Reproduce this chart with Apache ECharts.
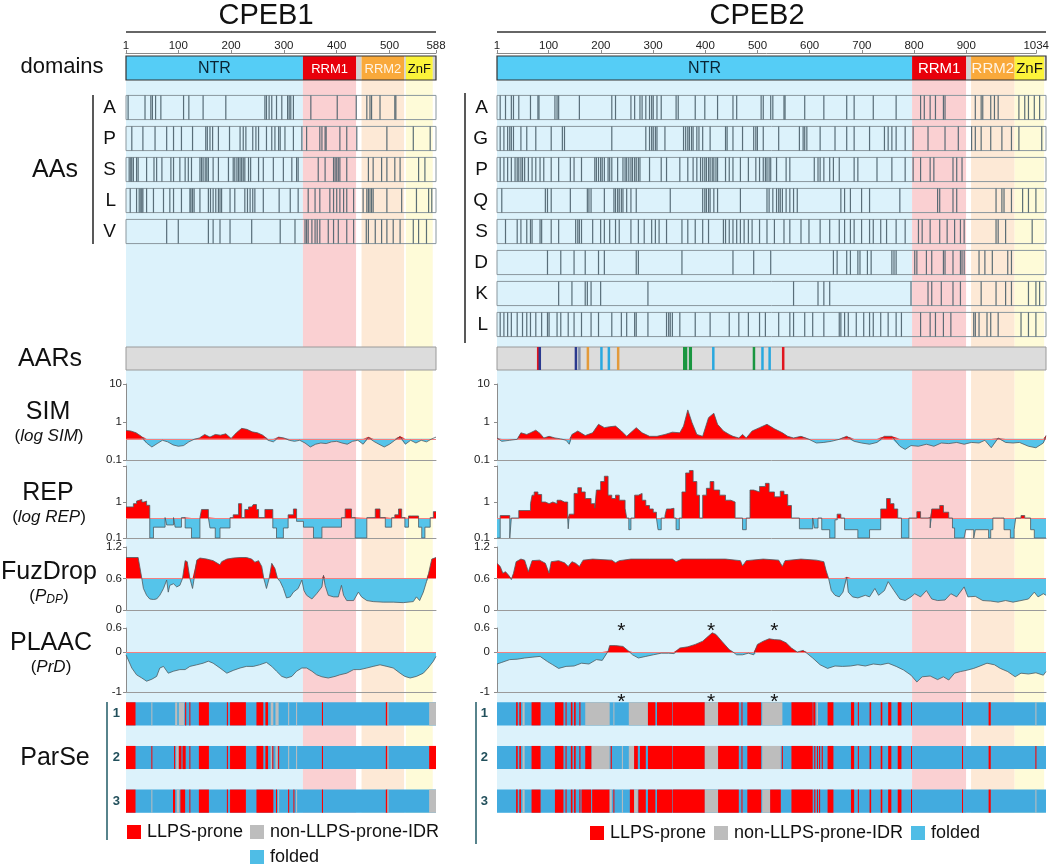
<!DOCTYPE html>
<html>
<head>
<meta charset="utf-8">
<script src="https://cdn.jsdelivr.net/npm/echarts@6/dist/echarts.min.js"></script>
<style>
html, body { margin: 0; padding: 0; background: #fff; }
#chart { width: 1052px; height: 867px; }
</style>
</head>
<body>
<div id="chart"></div>
<script>
// ---------- data ----------
var cpeb1Len = 588;
var cpeb2Len = 1034;
var cpeb1Ticks = [1, 100, 200, 300, 400, 500, 588];
var cpeb2Ticks = [1, 100, 200, 300, 400, 500, 600, 700, 800, 900, 1034];

// domain types: 0 NTR, 1 RRM1, 2 gap, 3 RRM2, 4 ZnF
var domainNames = ['NTR', 'RRM1', '', 'RRM2', 'ZnF'];
var cpeb1DomStart = [1, 336, 437, 447, 528, 531, 582];
var cpeb1DomEnd   = [336, 437, 447, 528, 531, 582, 588];
var cpeb1DomType  = [0, 1, 2, 3, 2, 4, 2];
var cpeb2DomStart = [1, 782, 884, 893, 975, 1031];
var cpeb2DomEnd   = [782, 884, 893, 975, 1031, 1034];
var cpeb2DomType  = [0, 1, 2, 3, 4, 2];

// amino acid positions
var cpeb1Tracks = ['A', 'P', 'S', 'L', 'V'];
var cpeb1A = [5,37,48,51,57,67,110,120,147,190,264,267,272,277,286,296,307,310,313,318,351,401,437,457,463,466,482,510,512];
var cpeb1P = [12,33,56,78,91,106,127,152,155,160,165,176,197,217,223,228,241,247,252,267,277,283,290,293,302,318,334,343,368,372,378,380,406,419,438,495,545,577];
var cpeb1S = [7,10,12,15,21,24,40,54,59,69,86,91,103,113,119,125,141,144,147,151,154,157,166,176,195,204,207,211,214,217,220,223,226,233,237,252,261,280,299,315,324,327,365,378,394,397,400,403,406,419,460,469,485,495,510,520,555,567];
var cpeb1L = [9,21,26,29,31,33,40,53,72,84,91,106,122,124,127,130,141,157,161,166,171,176,179,182,198,207,226,231,236,241,245,261,291,312,327,346,359,368,387,394,400,406,413,419,432,450,457,460,463,466,469,495,523,551,574,580];
var cpeb1V = [78,100,157,166,179,198,239,293,321,340,343,346,353,359,363,368,384,394,403,419,432,456,460,473,485,495,507,520,545,555,570];

var cpeb2Tracks = ['A', 'G', 'P', 'Q', 'S', 'D', 'K', 'L'];
var cpeb2A = [7,17,28,32,42,64,78,80,110,114,117,156,217,224,253,260,270,274,281,288,292,295,302,310,338,342,374,392,416,445,452,498,502,516,520,541,543,580,616,659,673,709,752,798,805,816,826,841,844,901,912,915,930,937,944,983,994,1001,1012,1022];
var cpeb2G = [7,14,21,25,28,32,46,57,74,103,124,128,217,281,288,292,295,299,302,317,352,356,360,363,367,370,377,381,388,402,431,434,445,463,484,488,491,502,531,570,577,580,584,609,637,659,673,702,730,737,744,752,769,784,812,844,869,894,901,912,930,951,969,983,1026];
var cpeb2P = [7,14,21,28,35,39,42,46,49,53,60,67,74,82,89,103,117,139,146,160,185,188,192,196,199,203,210,213,217,228,238,242,245,249,253,256,260,263,267,270,288,310,320,345,360,370,377,384,388,392,395,399,402,406,409,413,416,431,438,445,459,474,488,495,502,506,509,513,516,527,545,552,598,605,609,616,627,634,645,673,680,716,744,769,784,798,816,823,859,866,876];
var cpeb2Q = [10,92,96,103,139,171,174,178,203,221,224,228,231,235,238,245,253,263,327,388,392,395,399,402,409,416,459,509,513,520,527,531,534,538,545,552,559,566,648,655,666,687,702,759,830,834,859,866,940,951,955,969,990,1001,1015];
var cpeb2S = [17,39,46,57,64,67,82,85,103,117,149,153,156,160,181,196,203,213,224,231,253,267,278,292,299,306,320,349,360,374,388,399,427,431,438,445,452,459,466,474,481,495,509,523,541,552,573,588,609,627,645,655,666,673,687,702,709,723,734,752,769,794,801,816,834,848,862,873,880,940,944,958,1008];
var cpeb2D = [96,121,146,167,192,203,263,267,349,445,484,516,634,641,659,666,680,684,698,705,744,748,752,787,791,809,819,841,844,859,873,876,880,908,919,933,962,969];
var cpeb2K = [117,142,167,171,178,196,285,559,605,616,627,780,812,819,837,859,873,912,940,958,969,1001,1015,1022];
var cpeb2L = [7,14,21,28,39,49,57,64,74,85,96,99,114,121,135,146,160,178,192,217,235,245,260,263,285,320,324,327,331,345,374,402,438,456,474,495,506,531,552,559,580,595,616,645,648,655,662,677,691,702,709,723,737,752,762,798,816,826,841,855,898,901,908,923,930,944,987,1001,1015];

// AARs: [start, end, repeat type]
var cpeb1Aar = [];
var cpeb2Aar = [[77,80,0],[80,83,1],[148,151,1],[155,157,2],[171,173,3],[196,199,4],[210,213,4],[228,230,3],
  [351,359,5],[362,368,5],[407,409,4],[483,486,5],[499,502,4],[513,515,4],[538,541,0]];

// SIM (log scale)
var cpeb1Sim = [[1,0.60],[10,0.58],[20,0.52],[30,0.42],[40,0.28],[50,0.22],[60,0.27],[70,0.33],[80,0.30],[90,0.25],
  [100,0.23],[110,0.24],[120,0.30],[130,0.35],[140,0.38],[150,0.47],[160,0.40],[170,0.47],[180,0.45],[190,0.49],
  [200,0.37],[210,0.52],[220,0.68],[230,0.64],[240,0.55],[250,0.52],[260,0.45],[270,0.33],[280,0.30],[290,0.40],
  [300,0.38],[310,0.33],[320,0.31],[330,0.33],[340,0.28],[350,0.22],[360,0.26],[370,0.28],[380,0.27],[390,0.30],
  [400,0.31],[410,0.28],[420,0.26],[430,0.31],[440,0.33],[450,0.26],[460,0.40],[470,0.31],[480,0.26],[490,0.22],
  [500,0.26],[510,0.33],[520,0.42],[530,0.26],[540,0.33],[550,0.28],[560,0.33],[570,0.30],[580,0.36],[588,0.40]];
var cpeb2Sim = [[1,0.38],[10,0.31],[25,0.33],[39,0.35],[46,0.52],[57,0.47],[64,0.52],[74,0.61],[82,0.50],[89,0.38],
  [99,0.42],[110,0.38],[121,0.36],[131,0.33],[137,0.26],[142,0.47],[153,0.58],[167,0.44],[181,0.52],[192,0.87],
  [203,0.71],[213,0.75],[224,0.78],[235,0.58],[245,0.42],[256,0.58],[263,0.71],[274,0.52],[288,0.42],[302,0.42],
  [317,0.47],[331,0.54],[345,0.52],[352,0.78],[360,2.08],[368,0.96],[377,0.47],[388,0.42],[399,1.30],[409,1.70],
  [416,0.87],[427,0.58],[438,0.47],[445,0.42],[456,0.38],[463,0.47],[470,0.38],[481,0.58],[495,0.71],[509,0.87],
  [523,0.66],[538,0.52],[548,0.42],[559,0.38],[573,0.42],[588,0.35],[602,0.28],[616,0.29],[630,0.31],[645,0.35],
  [659,0.42],[673,0.31],[687,0.28],[702,0.26],[716,0.29],[730,0.42],[744,0.42],[759,0.23],[769,0.19],[780,0.24],
  [794,0.23],[809,0.26],[823,0.23],[837,0.28],[851,0.27],[866,0.29],[880,0.26],[894,0.29],[908,0.28],[919,0.33],
  [931,0.21],[944,0.38],[958,0.29],[972,0.28],[984,0.29],[1001,0.23],[1015,0.21],[1029,0.28],[1034,0.44]];

// REP (log scale, stepped)
var cpeb1Rep = [[1,0.73],[15,0.9],[21,1.06],[24,1.18],[31,1.0],[35,1.06],[40,0.81],[46,0.10],[53,0.20],[75,0.37],
  [78,0.23],[91,0.37],[94,0.20],[106,0.37],[113,0.19],[125,0.10],[141,0.37],[144,0.62],[157,0.37],[160,0.19],
  [170,0.10],[179,0.19],[198,0.37],[204,0.44],[214,0.90],[220,0.37],[226,0.62],[233,0.73],[239,0.66],[242,0.85],
  [248,0.62],[252,0.37],[264,0.62],[279,0.19],[286,0.10],[299,0.19],[308,0.44],[318,0.64],[324,0.29],[337,0.20],
  [356,0.10],[372,0.20],[409,0.37],[416,0.64],[428,0.37],[435,0.10],[457,0.37],[473,0.64],[482,0.37],[492,0.20],
  [504,0.37],[510,0.44],[517,0.64],[523,0.37],[529,0.20],[536,0.41],[542,0.41],[555,0.20],[561,0.10],[567,0.20],
  [577,0.37],[583,0.54],[588,0.54]];
var cpeb2Rep = [[1,0.1],[7,0.42],[25,0.1],[28,0.36],[42,0.58],[64,0.9],[67,1.55],[71,1.9],[78,1.62],[85,1.0],
  [92,0.9],[99,1.0],[106,0.9],[114,1.12],[121,1.0],[128,1.0],[134,0.36],[135,0.18],[137,0.46],[146,1.73],
  [153,2.5],[160,1.9],[167,1.25],[178,0.9],[185,0.67],[188,2.15],[196,3.7],[203,5.2],[210,1.55],[217,1.25],
  [224,1.55],[231,1.12],[242,0.67],[245,0.36],[249,0.17],[253,0.36],[260,1.55],[267,1.73],[274,1.12],[281,0.8],
  [288,0.64],[295,0.52],[301,0.36],[304,0.17],[310,0.36],[317,0.42],[320,0.64],[327,0.67],[334,0.36],[338,0.17],
  [344,0.36],[349,1.9],[356,6.4],[363,7.5],[370,3.7],[377,1.55],[382,0.36],[388,1.55],[395,2.4],[402,3.7],
  [409,2.15],[420,1.55],[431,1.12],[441,1.0],[449,0.36],[463,0.17],[470,0.36],[477,2.15],[484,1.9],[495,2.7],
  [506,3.3],[513,1.9],[523,1.39],[534,2.0],[541,1.62],[548,0.8],[555,0.36],[570,0.18],[595,0.36],[598,0.19],
  [605,0.36],[612,0.17],[627,0.1],[637,0.32],[641,0.46],[648,0.36],[655,0.17],[680,0.1],[702,0.17],[723,0.64],
  [734,1.25],[741,0.9],[748,0.64],[755,0.36],[762,0.1],[776,0.36],[791,0.54],[798,0.36],[812,0.37],[816,0.19],
  [819,0.64],[834,0.8],[841,0.52],[851,0.36],[858,0.19],[862,0.1],[880,0.1],[883,0.17],[898,0.1],[901,0.17],
  [926,0.1],[930,0.17],[934,0.36],[948,0.36],[955,0.17],[967,0.1],[974,0.17],[977,0.36],[987,0.42],[994,0.36],
  [1005,0.17],[1012,0.1],[1034,0.1]];

// FuzDrop pDP
var cpeb1Fuz = [[1,1.0],[24,1.0],[31,0.60],[34,0.41],[40,0.28],[46,0.21],[53,0.20],[59,0.21],[65,0.28],[72,0.41],
  [78,0.57],[81,0.34],[84,0.47],[91,0.50],[97,0.44],[103,0.47],[108,0.60],[113,0.94],[117,0.92],[122,0.60],
  [127,0.41],[130,0.60],[135,0.95],[141,0.99],[154,0.97],[166,0.94],[179,0.86],[182,0.92],[192,0.97],[204,0.99],
  [217,1.0],[229,1.0],[239,0.97],[245,0.91],[252,0.94],[258,0.83],[262,0.60],[267,0.41],[272,0.60],[277,0.89],
  [283,0.79],[288,0.60],[293,0.54],[299,0.41],[305,0.23],[312,0.25],[318,0.34],[327,0.41],[334,0.57],[338,0.37],
  [343,0.28],[353,0.21],[362,0.31],[372,0.44],[375,0.66],[378,0.47],[384,0.28],[394,0.25],[403,0.25],[409,0.47],
  [413,0.28],[419,0.18],[432,0.18],[441,0.34],[447,0.25],[457,0.18],[469,0.16],[488,0.15],[507,0.15],[526,0.14],
  [545,0.16],[551,0.25],[557,0.18],[564,0.34],[570,0.54],[574,0.70],[580,0.97],[588,1.0]];
var cpeb2Fuz = [[1,0.89],[7,0.83],[12,0.70],[17,0.73],[23,0.66],[28,0.58],[32,0.70],[37,0.92],[46,0.97],[53,0.95],
  [60,0.73],[67,0.94],[81,0.95],[92,0.89],[99,0.70],[103,0.92],[117,0.94],[128,0.90],[135,0.83],[142,0.92],
  [149,0.89],[156,0.83],[163,0.95],[181,0.97],[217,0.95],[224,0.90],[231,0.94],[253,0.97],[288,0.97],[331,0.97],
  [338,0.92],[349,0.97],[395,0.97],[431,0.97],[459,0.94],[463,0.84],[470,0.94],[502,0.97],[531,0.95],[538,0.83],
  [543,0.94],[573,0.97],[602,0.95],[616,0.92],[620,0.76],[625,0.60],[630,0.37],[637,0.28],[645,0.25],[652,0.34],
  [659,0.63],[662,0.34],[670,0.25],[680,0.23],[694,0.28],[702,0.25],[712,0.41],[719,0.28],[730,0.37],[737,0.54],
  [748,0.37],[759,0.21],[769,0.18],[780,0.25],[787,0.31],[798,0.25],[809,0.37],[819,0.21],[830,0.18],[844,0.19],
  [855,0.31],[866,0.25],[880,0.44],[887,0.25],[901,0.26],[915,0.18],[930,0.17],[944,0.15],[958,0.18],[972,0.15],
  [987,0.18],[1001,0.21],[1012,0.34],[1019,0.25],[1029,0.31],[1034,0.28]];

// PLAAC PrD
var cpeb1Plaac = [[1,-0.07],[12,-0.40],[21,-0.57],[31,-0.65],[40,-0.73],[50,-0.68],[59,-0.61],[65,-0.40],[72,-0.36],
  [81,-0.53],[91,-0.48],[103,-0.44],[113,-0.44],[122,-0.36],[135,-0.32],[147,-0.28],[157,-0.23],[166,-0.28],
  [179,-0.40],[192,-0.53],[204,-0.46],[217,-0.40],[229,-0.36],[242,-0.36],[254,-0.32],[267,-0.26],[277,-0.36],
  [286,-0.48],[296,-0.61],[305,-0.65],[315,-0.61],[324,-0.48],[334,-0.40],[343,-0.40],[353,-0.48],[362,-0.57],
  [372,-0.62],[384,-0.65],[397,-0.61],[406,-0.57],[419,-0.53],[432,-0.44],[444,-0.44],[457,-0.40],[469,-0.36],
  [482,-0.32],[495,-0.36],[507,-0.40],[520,-0.53],[529,-0.61],[539,-0.65],[551,-0.61],[564,-0.53],[573,-0.40],
  [583,-0.23],[588,-0.11]];
var cpeb2Plaac = [[1,-0.30],[10,-0.26],[25,-0.19],[39,-0.18],[53,-0.15],[67,-0.13],[82,-0.11],[96,-0.24],[106,-0.32],
  [117,-0.41],[131,-0.36],[146,-0.35],[160,-0.28],[174,-0.30],[188,-0.19],[199,-0.21],[210,0.02],[213,0.16],
  [224,0.16],[238,0.14],[249,0.02],[256,-0.07],[267,-0.15],[281,-0.11],[295,-0.07],[310,-0.03],[324,-0.03],
  [334,-0.04],[345,0.10],[360,0.13],[374,0.19],[388,0.27],[399,0.40],[406,0.48],[413,0.44],[424,0.27],[438,0.06],
  [445,0.0],[452,-0.07],[463,-0.07],[474,-0.03],[484,-0.07],[491,0.19],[502,0.27],[513,0.33],[523,0.31],[534,0.30],
  [545,0.23],[555,0.10],[566,0.0],[577,0.04],[584,-0.03],[595,-0.15],[609,-0.32],[623,-0.41],[637,-0.35],
  [651,-0.36],[666,-0.35],[680,-0.32],[694,-0.35],[709,-0.30],[723,-0.32],[737,-0.28],[752,-0.36],[766,-0.45],
  [780,-0.58],[791,-0.75],[801,-0.62],[816,-0.60],[830,-0.69],[841,-0.62],[851,-0.70],[862,-0.53],[873,-0.49],
  [887,-0.45],[898,-0.41],[908,-0.36],[923,-0.28],[937,-0.32],[948,-0.41],[962,-0.49],[976,-0.62],[987,-0.53],
  [1001,-0.55],[1015,-0.52],[1029,-0.58],[1034,-0.49]];
var cpeb2Stars = [235, 404, 523];

// ParSe segments on a folded background: [start, end, type] 0 = LLPS-prone, 1 = non-LLPS-prone IDR
var cpeb1Parse1 = [[1,19,0],[49,50,1],[94,98,1],[101,111,1],[113,115,0],[121,122,0],[139,158,0],[192,194,0],[198,228,0],
  [248,261,0],[265,270,0],[275,280,1],[284,290,1],[308,310,1],[323,325,1],[372,374,0],[493,496,0],[496,498,1],[575,588,1]];
var cpeb1Parse2 = [[1,19,0],[49,50,0],[92,94,0],[96,101,1],[101,106,0],[108,114,0],[121,122,0],[139,158,0],[192,194,0],
  [198,228,0],[248,261,0],[265,270,0],[275,278,1],[278,280,0],[284,288,1],[289,291,0],[308,310,1],[323,325,1],
  [372,374,0],[493,496,0],[496,498,1],[575,588,0]];
var cpeb1Parse3 = [[1,19,0],[49,50,1],[90,94,0],[97,102,1],[104,113,0],[121,122,0],[139,158,0],[192,194,0],[198,228,0],
  [248,280,0],[285,286,0],[289,291,1],[308,310,0],[318,319,0],[323,325,1],[372,374,0],[493,496,0],[496,498,1],[575,588,1]];
var cpeb2Parse1 = [[37,40,0],[43,46,0],[49,53,1],[66,83,0],[110,126,0],[130,131,0],[140,143,0],[146,149,0],[156,158,0],
  [167,213,1],[220,221,1],[249,285,1],[285,299,0],[302,331,0],[332,392,0],[392,417,1],[417,456,0],[461,462,0],
  [472,498,0],[500,538,1],[555,595,0],[596,600,0],[602,605,1],[623,634,0],[667,673,0],[680,681,0],[702,705,0],
  [723,726,0],[737,743,0],[755,762,0],[780,781,0],[876,877,0],[926,930,0],[1014,1016,1]];
var cpeb2Parse2 = [[37,40,0],[43,46,0],[49,53,1],[66,83,0],[110,126,0],[130,131,0],[140,143,0],[146,149,0],[156,158,0],
  [167,179,0],[179,213,1],[215,217,0],[236,237,1],[249,259,1],[259,266,0],[270,281,0],[285,331,0],[332,392,0],
  [392,417,1],[417,456,0],[461,462,0],[472,498,0],[500,535,1],[537,538,0],[555,595,0],[598,600,0],[603,604,0],
  [607,609,0],[612,614,0],[623,634,0],[667,673,0],[680,681,0],[702,705,0],[723,726,0],[737,743,0],[755,762,0],
  [780,781,0],[876,877,0],[926,930,0],[1014,1016,0]];
var cpeb2Parse3 = [[37,40,0],[43,46,0],[49,53,1],[66,83,0],[110,126,0],[130,131,0],[140,143,0],[146,149,0],[156,158,0],
  [160,178,0],[180,213,0],[213,217,1],[220,221,0],[236,237,1],[251,259,0],[259,266,1],[267,281,0],[285,299,0],
  [302,331,0],[332,392,0],[392,417,1],[417,456,0],[461,462,0],[472,498,0],[500,515,1],[515,535,0],[555,595,0],
  [598,600,0],[603,604,0],[607,609,0],[623,634,0],[667,673,0],[680,681,0],[702,705,0],[723,726,0],[737,743,0],
  [755,762,0],[780,781,0],[876,877,0],[926,930,0],[1014,1016,1]];

var simThr = 0.36, repThr = 0.36, fuzThr = 0.6, plaacThr = 0;

// ---------- styles ----------
var FONT = '"Liberation Sans", Arial, Helvetica, sans-serif';
var domainColors = ['#55cdf6', '#e8000b', '#d2d2d2', '#f9a93a', '#fbf33a'];
var domainTextColors = ['#0a2535', '#ffffff', '#ffffff', '#fff4e4', '#111111'];
var shadeColors = ['#dcf2fb', '#fad0d2', '#ffffff', '#fde9d6', '#fefbd8'];
var aarColors = ['#e0161f', '#2b3a8f', '#8593ad', '#e39a3a', '#29a8df', '#1a9640'];
var parseColors = ['#ff0000', '#bdbdbd'];
var foldedColor = '#42abdf';
var upColor = '#ff0000', downColor = '#55c4ea';

var proteins = [
    { name: 'CPEB1', len: cpeb1Len, left: 126, width: 310, ticks: cpeb1Ticks,
      domStart: cpeb1DomStart, domEnd: cpeb1DomEnd, domType: cpeb1DomType, domFont: 13,
      tracks: cpeb1Tracks, aa: [cpeb1A, cpeb1P, cpeb1S, cpeb1L, cpeb1V], aar: cpeb1Aar,
      sim: cpeb1Sim, rep: cpeb1Rep, fuz: cpeb1Fuz, plaac: cpeb1Plaac,
      parse: [cpeb1Parse1, cpeb1Parse2, cpeb1Parse3], stars: [],
      letterMargin: 10, yMargin: 4, rowMargin: 6, titleX: 266 },
    { name: 'CPEB2', len: cpeb2Len, left: 497, width: 549, ticks: cpeb2Ticks,
      domStart: cpeb2DomStart, domEnd: cpeb2DomEnd, domType: cpeb2DomType, domFont: 15,
      tracks: cpeb2Tracks, aa: [cpeb2A, cpeb2G, cpeb2P, cpeb2Q, cpeb2S, cpeb2D, cpeb2K, cpeb2L], aar: cpeb2Aar,
      sim: cpeb2Sim, rep: cpeb2Rep, fuz: cpeb2Fuz, plaac: cpeb2Plaac,
      parse: [cpeb2Parse1, cpeb2Parse2, cpeb2Parse3], stars: cpeb2Stars,
      letterMargin: 9, yMargin: 7, rowMargin: 9, titleX: 757 }
];

var grids = [], xAxes = [], yAxes = [], series = [], graphics = [];

function addGrid(p, top, height, yAxis, xExtra) {
    var gi = grids.length;
    grids.push({ left: p.left, width: p.width, top: top, height: height });
    xAxes.push(Object.assign({ gridIndex: gi, type: 'value', min: 1, max: p.len, show: false, z: 3 }, xExtra || {}));
    yAxes.push(Object.assign({ gridIndex: gi, z: 3 }, yAxis));
    return gi;
}

var hiddenY = { type: 'value', min: 0, max: 1, show: false };
var bottomLine = {
    show: true,
    axisLine: { show: true, onZero: false, lineStyle: { color: '#9a9a9a', width: 1 } },
    axisTick: { show: false }, axisLabel: { show: false }, splitLine: { show: false }
};
function yStyle(margin) {
    return {
        axisLine: { show: true, lineStyle: { color: '#8c8c8c' } },
        axisTick: { show: true, length: 3, lineStyle: { color: '#8c8c8c' } },
        axisLabel: { fontSize: 11.5, color: '#222', margin: margin, fontFamily: FONT },
        splitLine: { show: false }
    };
}

function rectBetween(api, x0, x1, yTop, yBot) {
    var a = api.coord([x0, yTop]);
    var b = api.coord([x1, yBot]);
    return { x: a[0], y: a[1], width: Math.max(b[0] - a[0], 1), height: b[1] - a[1] };
}

function addProfile(gi, pairs, thr, step) {
    var up = [], dn = [];
    pairs.forEach(function (d) {
        up.push([d[0], Math.max(d[1], thr)]);
        dn.push([d[0], Math.min(d[1], thr)]);
    });
    var base = { type: 'line', xAxisIndex: gi, yAxisIndex: gi, symbol: 'none', step: step || false,
                 silent: true, animation: false, z: 4 };
    series.push(Object.assign({}, base, { data: up, lineStyle: { opacity: 0 },
        areaStyle: { color: upColor, opacity: 1, origin: thr } }));
    series.push(Object.assign({}, base, { data: dn, lineStyle: { opacity: 0 },
        areaStyle: { color: downColor, opacity: 1, origin: thr } }));
    series.push(Object.assign({}, base, { data: pairs, z: 5,
        lineStyle: { color: '#4f5a60', width: 0.8 },
        markLine: { silent: true, symbol: 'none', animation: false, label: { show: false },
            lineStyle: { color: '#f28080', width: 1.2, type: 'solid' }, data: [{ yAxis: thr }] } }));
}

proteins.forEach(function (p) {
    var doms = p.domStart.map(function (s, i) { return [s, p.domEnd[i], p.domType[i]]; });

    // background shading of the domains
    var gShade = addGrid(p, 80, 733, hiddenY);
    series.push({ type: 'custom', xAxisIndex: gShade, yAxisIndex: gShade, z: 1, silent: true,
        encode: { x: [0, 1] }, data: doms,
        renderItem: function (params, api) {
            return { type: 'rect', shape: rectBetween(api, api.value(0), api.value(1), 1, 0),
                     style: { fill: shadeColors[api.value(2)] } };
        } });

    // residue ruler
    addGrid(p, 52, 1, hiddenY, {
        show: true, position: 'top',
        axisLine: { show: true, lineStyle: { color: '#8a8a8a', width: 1 } },
        axisTick: { show: true, length: 3, customValues: p.ticks, lineStyle: { color: '#8a8a8a' } },
        axisLabel: { show: true, customValues: p.ticks, fontSize: 11.5, color: '#222', margin: 0, fontFamily: FONT,
                     formatter: function (v) { return String(v); } },
        splitLine: { show: false }
    });

    // domain bar
    var gDom = addGrid(p, 56, 24, hiddenY);
    series.push({ type: 'custom', xAxisIndex: gDom, yAxisIndex: gDom, silent: true,
        encode: { x: [0, 1] }, data: doms,
        renderItem: function (params, api) {
            var t = api.value(2);
            var r = rectBetween(api, api.value(0), api.value(1), 1, 0);
            var children = [{ type: 'rect', shape: r, style: { fill: domainColors[t] } }];
            if (domainNames[t]) {
                children.push({ type: 'text', style: { text: domainNames[t], x: r.x + r.width / 2, y: r.y + r.height / 2 + 1,
                    align: 'center', verticalAlign: 'middle', fill: domainTextColors[t],
                    fontSize: t === 0 ? 16 : p.domFont, fontFamily: FONT } });
            }
            return { type: 'group', children: children };
        } });
    series.push({ type: 'custom', xAxisIndex: gDom, yAxisIndex: gDom, silent: true, z: 3,
        encode: { x: [0, 1] }, data: [[1, p.len]],
        renderItem: function (params, api) {
            return { type: 'rect', shape: rectBetween(api, api.value(0), api.value(1), 1, 0),
                     style: { fill: 'none', stroke: '#333', lineWidth: 1.2 } };
        } });

    // amino acid tracks
    var gAA = addGrid(p, 92, 31 * p.tracks.length, {
        type: 'category', data: p.tracks, inverse: true,
        axisLine: { show: false }, axisTick: { show: false }, splitLine: { show: false },
        axisLabel: { fontSize: 19, color: '#111', margin: p.letterMargin, fontFamily: FONT }
    });
    series.push({ type: 'custom', xAxisIndex: gAA, yAxisIndex: gAA, silent: true, z: 3,
        encode: { x: [0, 1], y: 2 }, data: p.tracks.map(function (t, i) { return [1, p.len, i]; }),
        renderItem: function (params, api) {
            var a = api.coord([api.value(0), api.value(2)]);
            var b = api.coord([api.value(1), api.value(2)]);
            var h = api.size([0, 1])[1] * 0.39;
            return { type: 'rect', shape: { x: a[0], y: a[1] - h, width: b[0] - a[0], height: 2 * h },
                     style: { fill: 'none', stroke: '#8a979e', lineWidth: 1 } };
        } });
    var tickData = [];
    p.aa.forEach(function (list, i) { list.forEach(function (pos) { tickData.push([pos, i]); }); });
    series.push({ type: 'custom', xAxisIndex: gAA, yAxisIndex: gAA, silent: true, z: 4,
        encode: { x: 0, y: 1 }, data: tickData,
        renderItem: function (params, api) {
            var c = api.coord([api.value(0), api.value(1)]);
            var h = api.size([0, 1])[1] * 0.39;
            return { type: 'line', shape: { x1: c[0], y1: c[1] - h, x2: c[0], y2: c[1] + h },
                     style: { stroke: '#4a5f6a', lineWidth: 1.2, opacity: 0.9 } };
        } });

    // AARs
    var gAar = addGrid(p, 347, 23, hiddenY);
    series.push({ type: 'custom', xAxisIndex: gAar, yAxisIndex: gAar, silent: true, z: 3,
        encode: { x: [0, 1] }, data: [[1, p.len]],
        renderItem: function (params, api) {
            return { type: 'rect', shape: rectBetween(api, api.value(0), api.value(1), 1, 0),
                     style: { fill: '#dcdcdc', stroke: '#9a9a9a', lineWidth: 1 } };
        } });
    series.push({ type: 'custom', xAxisIndex: gAar, yAxisIndex: gAar, silent: true, z: 4,
        encode: { x: [0, 1] }, data: p.aar,
        renderItem: function (params, api) {
            var r = rectBetween(api, api.value(0), api.value(1), 1, 0);
            if (r.width < 2.5) { r.x -= (2.5 - r.width) / 2; r.width = 2.5; }
            return { type: 'rect', shape: r, style: { fill: aarColors[api.value(2)] } };
        } });

    // SIM
    var gSim = addGrid(p, 384, 76, Object.assign({ type: 'log', logBase: 10, min: 0.1, max: 10 }, yStyle(p.yMargin)), bottomLine);
    addProfile(gSim, p.sim, simThr);

    // REP
    var repY = Object.assign({ type: 'log', logBase: 10, min: 0.1, max: 10 }, yStyle(p.yMargin));
    repY.axisLabel = Object.assign({}, repY.axisLabel, { formatter: function (v) { return v >= 10 ? '' : String(v); } });
    var gRep = addGrid(p, 466, 72, repY, bottomLine);
    addProfile(gRep, p.rep, repThr, 'end');

    // FuzDrop
    var gFuz = addGrid(p, 547, 63, Object.assign({ type: 'value', min: 0, max: 1.2, interval: 0.6 }, yStyle(p.yMargin)), bottomLine);
    addProfile(gFuz, p.fuz, fuzThr);

    // PLAAC
    var plY = Object.assign({ type: 'value', min: -1, max: 0.6 }, yStyle(p.yMargin));
    plY.axisLabel = Object.assign({}, plY.axisLabel, { customValues: [-1, 0, 0.6] });
    plY.axisTick = Object.assign({}, plY.axisTick, { customValues: [-1, 0, 0.6] });
    var gPl = addGrid(p, 628, 64, plY, bottomLine);
    addProfile(gPl, p.plaac, plaacThr);
    if (p.stars.length) {
        var starData = [];
        p.stars.forEach(function (s) { starData.push([s, 0.65]); starData.push([s, -1.125]); });
        series.push({ type: 'custom', xAxisIndex: gPl, yAxisIndex: gPl, silent: true, z: 6, clip: false,
            encode: { x: 0, y: 1 }, data: starData,
            renderItem: function (params, api) {
                var c = api.coord([api.value(0), api.value(1)]);
                return { type: 'text', style: { text: '*', x: c[0], y: c[1] + 5, align: 'center', verticalAlign: 'middle',
                    fill: '#111', fontSize: 21, fontFamily: FONT } };
            } });
    }

    // ParSe
    var gPs = addGrid(p, 692, 131, {
        type: 'category', data: ['1', '2', '3'], inverse: true,
        axisLine: { show: false }, axisTick: { show: false }, splitLine: { show: false },
        axisLabel: { fontSize: 13, fontWeight: 'bold', color: '#22505c', margin: p.rowMargin, fontFamily: FONT }
    });
    series.push({ type: 'custom', xAxisIndex: gPs, yAxisIndex: gPs, silent: true, z: 3,
        encode: { x: [0, 1], y: 2 }, data: [[1, p.len, 0], [1, p.len, 1], [1, p.len, 2]],
        renderItem: function (params, api) {
            var a = api.coord([api.value(0), api.value(2)]);
            var b = api.coord([api.value(1), api.value(2)]);
            var h = api.size([0, 1])[1] * 0.265;
            return { type: 'rect', shape: { x: a[0], y: a[1] - h, width: b[0] - a[0], height: 2 * h },
                     style: { fill: foldedColor } };
        } });
    var segData = [];
    p.parse.forEach(function (row, i) { row.forEach(function (s) { segData.push([s[0], s[1], i, s[2]]); }); });
    series.push({ type: 'custom', xAxisIndex: gPs, yAxisIndex: gPs, silent: true, z: 4,
        encode: { x: [0, 1], y: 2 }, data: segData,
        renderItem: function (params, api) {
            var a = api.coord([api.value(0), api.value(2)]);
            var b = api.coord([api.value(1), api.value(2)]);
            var h = api.size([0, 1])[1] * 0.265;
            return { type: 'rect', shape: { x: a[0], y: a[1] - h, width: Math.max(b[0] - a[0], 1), height: 2 * h },
                     style: { fill: parseColors[api.value(3)] } };
        } });

    // title and its rule
    graphics.push({ type: 'text', x: p.titleX, y: 16, style: { text: p.name, align: 'center', verticalAlign: 'middle',
        fill: '#111', fontSize: 29, fontFamily: FONT } });
    graphics.push({ type: 'line', shape: { x1: p.left, y1: 32, x2: p.left + p.width, y2: 32 },
        style: { stroke: '#333', lineWidth: 1.5 } });
});

// left-hand row labels
function label(text, x, y, size, rich) {
    graphics.push({ type: 'text', x: x, y: y, style: { text: text, align: 'center', verticalAlign: 'middle',
        fill: '#111', fontSize: size, fontFamily: FONT, rich: rich } });
}
var it = { i: { fontStyle: 'italic', fontSize: 17, fontFamily: FONT, fill: '#111' },
           s: { fontStyle: 'italic', fontSize: 12, fontFamily: FONT, fill: '#111', padding: [7, 0, 0, 0] } };
label('domains', 62, 67, 22);
label('AAs', 55, 170, 25);
label('AARs', 50, 359, 25);
label('SIM', 48, 412, 25);
label('({i|log SIM})', 49, 436, 17, it);
label('REP', 48, 493, 25);
label('({i|log REP})', 49, 517, 17, it);
label('FuzDrop', 49, 572, 25);
label('({i|P}{s|DP})', 49, 596, 17, it);
label('PLAAC', 51, 643, 25);
label('({i|PrD})', 51, 667, 17, it);
label('ParSe', 55, 758, 25);

// bracket lines
graphics.push({ type: 'line', shape: { x1: 93, y1: 95, x2: 93, y2: 244 }, style: { stroke: '#222', lineWidth: 1.5 } });
graphics.push({ type: 'line', shape: { x1: 465, y1: 93, x2: 465, y2: 343 }, style: { stroke: '#222', lineWidth: 1.5 } });
graphics.push({ type: 'line', shape: { x1: 107, y1: 702, x2: 107, y2: 840 }, style: { stroke: '#1f5a66', lineWidth: 1.5 } });
graphics.push({ type: 'line', shape: { x1: 476, y1: 702, x2: 476, y2: 844 }, style: { stroke: '#1f5a66', lineWidth: 1.5 } });

// legends
function legendItem(x, y, color, text) {
    graphics.push({ type: 'rect', shape: { x: x, y: y - 7, width: 14, height: 14 }, style: { fill: color } });
    graphics.push({ type: 'text', x: x + 20, y: y, style: { text: text, align: 'left', verticalAlign: 'middle',
        fill: '#111', fontSize: 18, fontFamily: FONT } });
}
legendItem(127, 832, parseColors[0], 'LLPS-prone');
legendItem(250, 832, parseColors[1], 'non-LLPS-prone-IDR');
legendItem(250, 857, '#4fbde6', 'folded');
legendItem(590, 833, parseColors[0], 'LLPS-prone');
legendItem(714, 833, parseColors[1], 'non-LLPS-prone-IDR');
legendItem(911, 833, '#4fbde6', 'folded');

var myChart = echarts.init(document.getElementById('chart'));
var option = {
    animation: false,
    backgroundColor: '#ffffff',
    grid: grids,
    xAxis: xAxes,
    yAxis: yAxes,
    series: series,
    graphic: { elements: graphics }
};
option && myChart.setOption(option);
</script>
</body>
</html>
